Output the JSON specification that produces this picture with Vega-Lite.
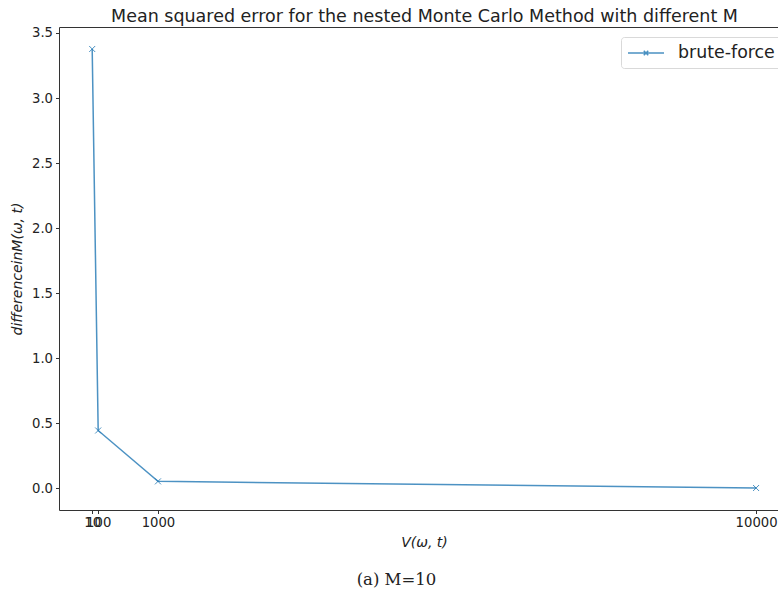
{
  "$schema": "https://vega.github.io/schema/vega-lite/v6.json",
  "autosize": {"type": "none"},
  "width": 719,
  "height": 483,
  "padding": {"left": 59, "top": 27, "right": 0, "bottom": 79},
  "background": "white",
  "title": {
    "text": "(a) M=10",
    "orient": "bottom",
    "anchor": "middle",
    "font": "DejaVu Serif",
    "fontSize": 16.5,
    "fontWeight": "normal",
    "color": "#222222",
    "dx": -22,
    "offset": 22
  },
  "data": {
    "values": [
      {"V": 10, "mse": 3.377, "series": "brute-force"},
      {"V": 100, "mse": 0.445, "series": "brute-force"},
      {"V": 1000, "mse": 0.054, "series": "brute-force"},
      {"V": 10000, "mse": 0.003, "series": "brute-force"}
    ]
  },
  "config": {
    "view": {"stroke": null},
    "axis": {
      "grid": false,
      "domainColor": "#333333",
      "domainWidth": 1,
      "tickColor": "#333333",
      "tickSize": 3.5,
      "tickWidth": 1,
      "labelColor": "#222222",
      "labelFont": "DejaVu Sans",
      "labelFontSize": 13.2,
      "labelPadding": 3,
      "titleFont": "DejaVu Sans",
      "titleFontWeight": "normal",
      "titleColor": "#222222"
    },
    "legend": {
      "orient": "none",
      "legendX": 562,
      "legendY": 10,
      "title": null,
      "padding": 6,
      "strokeColor": "#d9d9d9",
      "fillColor": "white",
      "cornerRadius": 3,
      "labelFont": "DejaVu Sans",
      "labelFontSize": 17.4,
      "labelColor": "#222222",
      "labelOffset": 31,
      "symbolType": "M-1,0L3,0M0.75,-0.25L1.25,0.25M0.75,0.25L1.25,-0.25",
      "symbolSize": 324,
      "symbolStrokeWidth": 1.5,
      "symbolFillColor": "transparent",
      "symbolOpacity": 0.8
    }
  },
  "resolve": {"axis": {"x": "independent"}},
  "layer": [
    {
      "mark": {"type": "line", "strokeWidth": 1.5, "opacity": 0.8},
      "encoding": {
        "x": {
          "field": "V",
          "type": "quantitative",
          "scale": {"domain": [-489.5, 10330], "nice": false, "zero": false},
          "axis": {
            "values": [10, 100, 1000, 10000],
            "format": "d",
            "labelOverlap": false,
            "labelFlush": false,
            "labelBound": false,
            "title": "V(ω, t)",
            "titleFontStyle": "italic",
            "titleFontSize": 14,
            "titlePadding": 7,
            "titleX": 365
          }
        },
        "y": {
          "field": "mse",
          "type": "quantitative",
          "scale": {"domain": [-0.166, 3.546], "nice": false, "zero": false},
          "axis": {
            "values": [0, 0.5, 1, 1.5, 2, 2.5, 3, 3.5],
            "format": ".1f",
            "title": "differenceinM(ω, t)",
            "titleFontStyle": "italic",
            "titleFontSize": 14,
            "titlePadding": 7
          }
        },
        "color": {
          "field": "series",
          "type": "nominal",
          "scale": {"range": ["#1f77b4"]}
        }
      }
    },
    {
      "mark": {
        "type": "point",
        "shape": "M-1,-1L1,1M-1,1L1,-1",
        "filled": false,
        "strokeWidth": 1,
        "size": 36,
        "opacity": 0.8
      },
      "encoding": {
        "x": {
          "field": "V",
          "type": "quantitative",
          "axis": {
            "orient": "top",
            "labels": false,
            "ticks": false,
            "title": "Mean squared error for the nested Monte Carlo Method with different M",
            "titleFontSize": 17.5,
            "titlePadding": 2,
            "titleX": 365
          }
        },
        "y": {"field": "mse", "type": "quantitative"},
        "color": {"field": "series", "type": "nominal"}
      }
    }
  ]
}
